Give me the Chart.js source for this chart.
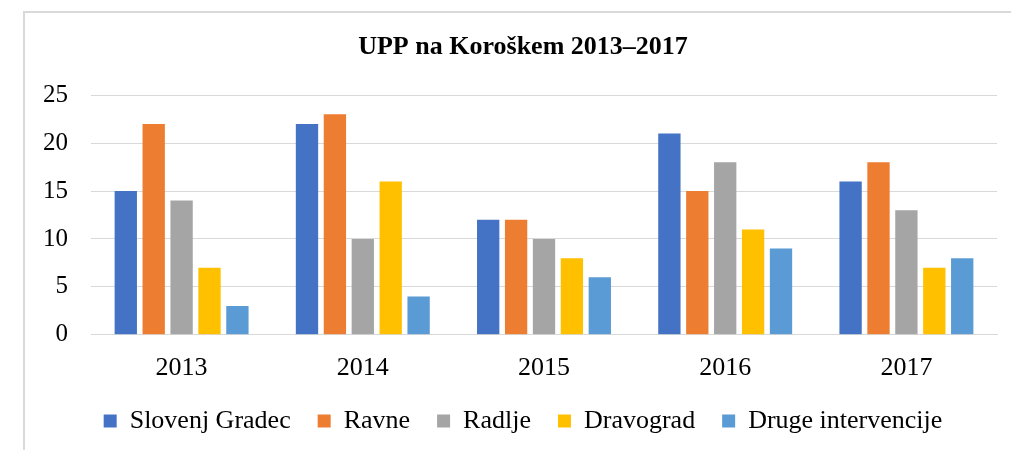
<!DOCTYPE html>
<html>
<head>
<meta charset="utf-8">
<script src="https://cdn.jsdelivr.net/npm/chart.js@4.4.1/dist/chart.umd.min.js"></script>
<style>
  html, body { margin: 0; padding: 0; background: #fff; overflow: hidden; }
  #frame { position: absolute; left: 23px; top: 11px; width: 1200px; height: 600px;
           border-left: 2px solid #d9d9d9; border-top: 2px solid #d9d9d9; box-sizing: border-box; }
  #wrap { position: absolute; left: 0; top: 0; width: 1011px; height: 450px; }
</style>
</head>
<body>
<div id="frame"></div>
<div id="wrap"><canvas id="c" width="1011" height="450"></canvas></div>
<script>
const categories = ['2013', '2014', '2015', '2016', '2017'];
const seriesNames = ['Slovenj Gradec', 'Ravne', 'Radlje', 'Dravograd', 'Druge intervencije'];
const slovenjGradec = [15, 22, 12, 21, 16];
const ravne = [22, 23, 12, 15, 18];
const radlje = [14, 10, 10, 18, 13];
const dravograd = [7, 16, 8, 11, 7];
const drugeIntervencije = [3, 4, 6, 9, 8];
const yTicks = [0, 5, 10, 15, 20, 25];
const colors = ['#4472C4', '#ED7D31', '#A5A5A5', '#FFC000', '#5B9BD5'];
const titleText = 'UPP na Koroškem 2013–2017';

const seriesValues = [slovenjGradec, ravne, radlje, dravograd, drugeIntervencije];
const serif = '"Liberation Serif", "Times New Roman", serif';

new Chart(document.getElementById('c'), {
  type: 'bar',
  data: {
    labels: categories,
    datasets: seriesNames.map((name, i) => ({
      label: name,
      data: seriesValues[i],
      backgroundColor: colors[i],
      borderWidth: 0,
      categoryPercentage: 0.77,
      barPercentage: 0.8
    }))
  },
  options: {
    responsive: false,
    animation: false,
    devicePixelRatio: 1,
    layout: { padding: { left: 35, right: 0, top: 0, bottom: 6 } },
    plugins: {
      title: {
        display: true,
        text: titleText,
        color: '#000',
        font: { family: serif, size: 26, weight: 'bold' },
        padding: { top: 32, bottom: 32 }
      },
      legend: {
        position: 'bottom',
        labels: {
          color: '#000',
          font: { family: serif, size: 26 },
          boxWidth: 13,
          boxHeight: 13,
          padding: 27
        }
      },
      tooltip: { enabled: false }
    },
    scales: {
      x: {
        afterFit: s => { s.height = s.height - 13; },
        grid: { display: false },
        border: { display: true, color: '#d9d9d9', width: 1 },
        ticks: { color: '#000', font: { family: serif, size: 26 }, padding: 10 }
      },
      y: {
        min: 0, max: 25,
        afterFit: s => { s.width = 56; },
        afterBuildTicks: s => { s.ticks = yTicks.map(v => ({ value: v })); },
        grid: { color: '#d9d9d9', lineWidth: 1, drawTicks: false },
        border: { display: false },
        ticks: { color: '#000', font: { family: serif, size: 25 }, padding: 23 }
      },
      y2: {
        position: 'right',
        display: true,
        afterFit: s => { s.width = 14; },
        grid: { display: false },
        border: { display: false },
        ticks: { display: false }
      }
    }
  }
});
</script>
</body>
</html>
